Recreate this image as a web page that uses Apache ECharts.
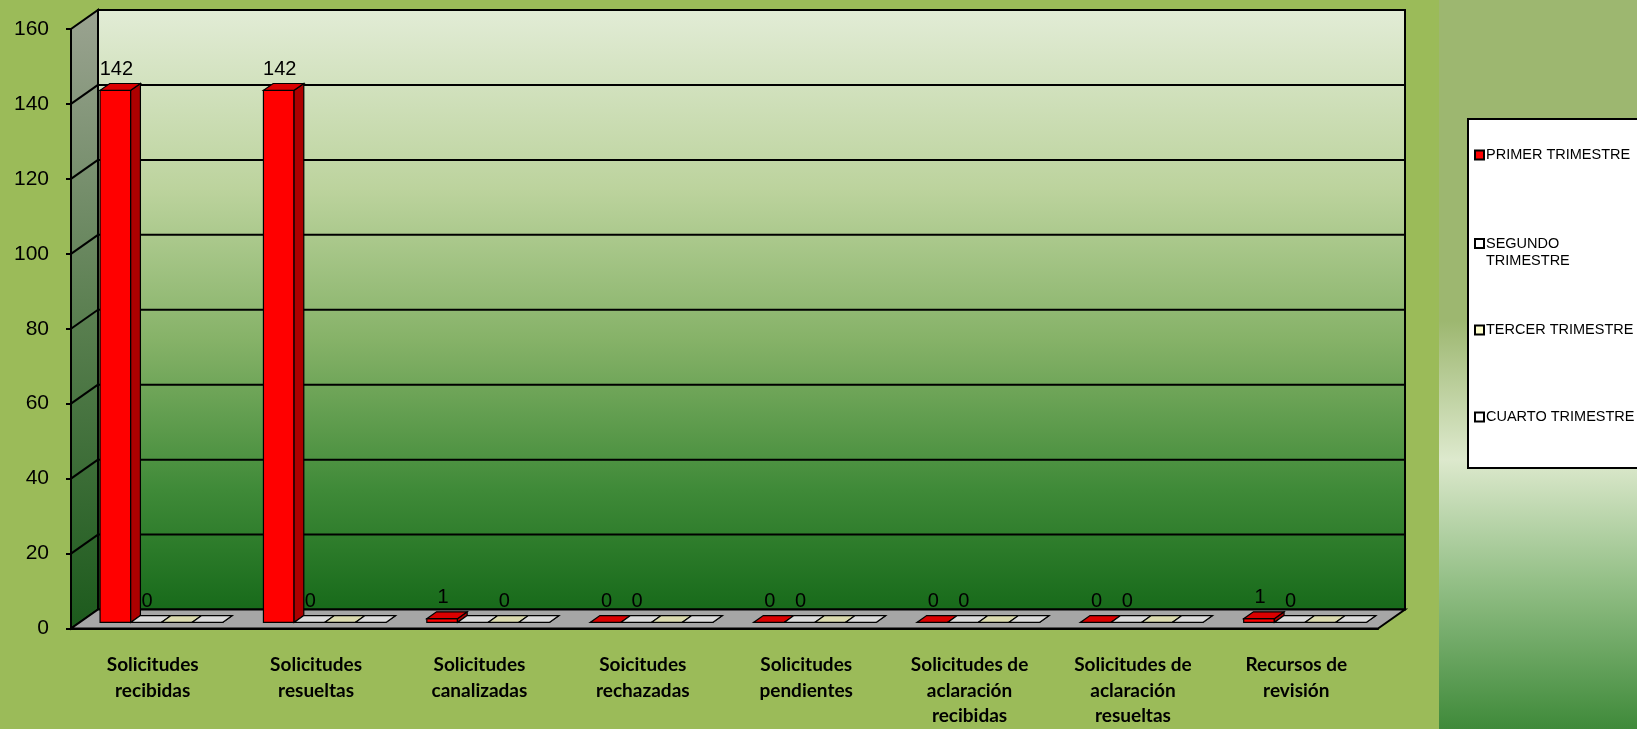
<!DOCTYPE html>
<html>
<head>
<meta charset="utf-8">
<script src="https://cdn.jsdelivr.net/npm/echarts@6.0.0/dist/echarts.min.js"></script>
<style>
  html, body { margin: 0; padding: 0; }
  #chart { width: 1637px; height: 729px; }
</style>
</head>
<body>
<div id="chart"></div>
<script>
// datos del grafico
var categories = [
    'Solicitudes\nrecibidas',
    'Solicitudes\nresueltas',
    'Solicitudes\ncanalizadas',
    'Soicitudes\nrechazadas',
    'Solicitudes\npendientes',
    'Solicitudes de\naclaración\nrecibidas',
    'Solicitudes de\naclaración\nresueltas',
    'Recursos de\nrevisión'
];
var seriesNames = ['PRIMER TRIMESTRE', 'SEGUNDO TRIMESTRE', 'TERCER TRIMESTRE', 'CUARTO TRIMESTRE'];
var primer  = [142, 142, 1, 0, 0, 0, 0, 1];
var segundo = [0, 0, 0, 0, 0, 0, 0, 0];
var tercer  = [0, 0, 0, 0, 0, 0, 0, 0];
var cuarto  = [0, 0, 0, 0, 0, 0, 0, 0];
// which value labels are shown (1 = shown)
var labelsPrimer  = [1, 1, 1, 1, 1, 1, 1, 1];
var labelsSegundo = [1, 1, 0, 1, 1, 1, 1, 1];
var labelsTercer  = [0, 0, 1, 0, 0, 0, 0, 0];
var labelsCuarto  = [0, 0, 0, 0, 0, 0, 0, 0];
var yMin = 0, yMax = 160, yStep = 20;

var seriesData = [primer, segundo, tercer, cuarto];
var seriesLabels = [labelsPrimer, labelsSegundo, labelsTercer, labelsCuarto];
var colors = ['#ff0000', '#ffffff', '#ffffcc', '#ffffff'];

// 3d depth offset
var DX = 27, DY = -19;
var F0 = 0.32, F1 = 0.68;

function shade(hex, k) {
    var n = parseInt(hex.slice(1), 16);
    var r = Math.round(((n >> 16) & 255) * k);
    var g = Math.round(((n >> 8) & 255) * k);
    var b = Math.round((n & 255) * k);
    return 'rgb(' + r + ',' + g + ',' + b + ')';
}

function barRenderer(slot) {
    return function (params, api) {
        var cat = api.value(0), val = api.value(1);
        var top = api.coord([cat, val]);
        var base = api.coord([cat, 0]);
        var cw = api.size([1, 0])[0];
        var bw = cw * 0.1875;
        var x0 = top[0] - cw * 0.375 + slot * bw, x1 = x0 + bw;
        var fx = DX * F0, fy = DY * F0, bx = DX * F1, by = DY * F1;
        var yv = top[1], y0 = base[1];
        var c = colors[slot];
        var ln = 1.2;
        var children = [
            { type: 'polygon', shape: { points: [[x0 + fx, y0 + fy], [x1 + fx, y0 + fy], [x1 + fx, yv + fy], [x0 + fx, yv + fy]] },
              style: { fill: c, stroke: '#000', lineWidth: ln } },
            { type: 'polygon', shape: { points: [[x1 + fx, y0 + fy], [x1 + bx, y0 + by], [x1 + bx, yv + by], [x1 + fx, yv + fy]] },
              style: { fill: shade(c, 0.68), stroke: '#000', lineWidth: ln } },
            { type: 'polygon', shape: { points: [[x0 + fx, yv + fy], [x1 + fx, yv + fy], [x1 + bx, yv + by], [x0 + bx, yv + by]] },
              style: { fill: shade(c, 0.86), stroke: '#000', lineWidth: ln } }
        ];
        if (seriesLabels[slot][params.dataIndex]) {
            children.push({
                type: 'text',
                style: {
                    text: String(val), x: (x0 + x1) / 2 + fx + 1, y: yv + by - 14,
                    align: 'center', verticalAlign: 'middle',
                    fill: '#000', font: '20px Arial'
                }
            });
        }
        return { type: 'group', children: children };
    };
}

function wallRenderer(params, api) {
    var cs = params.coordSys;
    var L = cs.x, R = cs.x + cs.width;
    var y0 = api.coord([0, yMin])[1];
    var yt = api.coord([0, yMax])[1];
    var border = { stroke: '#000', lineWidth: 2 };
    var children = [];
    // side wall
    children.push({
        type: 'polygon',
        shape: { points: [[L, y0], [L + DX, y0 + DY], [L + DX, yt + DY], [L, yt]] },
        style: {
            fill: new echarts.graphic.LinearGradient(0, 0, 0, 1, [
                { offset: 0, color: '#9ba391' },
                { offset: 0.5, color: '#5a7f50' },
                { offset: 1, color: '#1c5a1c' }
            ]),
            stroke: border.stroke, lineWidth: border.lineWidth
        }
    });
    // back wall
    children.push({
        type: 'rect',
        shape: { x: L + DX, y: yt + DY, width: R - L, height: y0 - yt },
        style: {
            fill: new echarts.graphic.LinearGradient(0, 0, 0, 1, [
                { offset: 0, color: '#e2ecd6' },
                { offset: 0.3, color: '#bcd39d' },
                { offset: 0.55, color: '#86b268' },
                { offset: 0.8, color: '#3f8a38' },
                { offset: 1, color: '#176a1a' }
            ]),
            stroke: border.stroke, lineWidth: border.lineWidth
        }
    });
    // gridlines
    for (var v = yMin + yStep; v < yMax; v += yStep) {
        var y = api.coord([0, v])[1];
        children.push({ type: 'line', shape: { x1: L + DX, y1: y + DY, x2: R + DX, y2: y + DY }, style: border });
        children.push({ type: 'line', shape: { x1: L, y1: y, x2: L + DX, y2: y + DY }, style: border });
    }
    // floor
    children.push({
        type: 'polygon',
        shape: { points: [[L, y0], [R, y0], [R + DX, y0 + DY], [L + DX, y0 + DY]] },
        style: { fill: '#a6a6a6', stroke: border.stroke, lineWidth: border.lineWidth }
    });
    return { type: 'group', children: children };
}

var chart = echarts.init(document.getElementById('chart'));

var series = [{
    type: 'custom',
    name: 'walls',
    silent: true,
    z: 1,
    data: [[0, 0]],
    encode: { x: 0, y: 1 },
    renderItem: wallRenderer
}];
for (var s = 0; s < 4; s++) {
    series.push({
        type: 'custom',
        name: seriesNames[s],
        z: 3,
        color: colors[s],
        itemStyle: { color: colors[s] },
        data: seriesData[s].map(function (v, i) { return [i, v]; }),
        encode: { x: 0, y: 1 },
        renderItem: barRenderer(s)
    });
}

// segundo wraps on two lines; a blank line above keeps the marker on the first line
var legendTops = [146.5, 218, 321.5, 408.5];
var legends = seriesNames.map(function (name, i) {
    var two = (i === 1);
    return {
        data: [name],
        left: 1474,
        top: legendTops[i],
        padding: 0,
        selectedMode: false,
        icon: 'rect',
        itemWidth: 9,
        itemHeight: 9,
        itemGap: 0,
        itemStyle: { borderColor: '#000', borderWidth: 2 },
        formatter: two ? ' \nSEGUNDO\nTRIMESTRE' : name,
        textStyle: {
            fontFamily: 'Arial', fontSize: 14.5, color: '#000', lineHeight: 17,
            padding: [0, 0, 0, -3]
        }
    };
});

var option = {
    backgroundColor: '#9bbb59',
    animation: false,
    grid: { left: 71, top: 29, width: 1307, height: 600 },
    graphic: [
        {
            type: 'rect', z: 0, silent: true,
            shape: { x: 1439, y: 0, width: 198, height: 729 },
            style: {
                fill: new echarts.graphic.LinearGradient(0, 0, 0, 1, [
                    { offset: 0, color: '#9db770' },
                    { offset: 0.44, color: '#9db770' },
                    { offset: 0.63, color: '#dde9cd' },
                    { offset: 0.8, color: '#93bf86' },
                    { offset: 1, color: '#3f8a3a' }
                ])
            }
        },
        {
            type: 'rect', z: 0, silent: true,
            shape: { x: 1468, y: 119, width: 200, height: 349 },
            style: { fill: '#fff', stroke: '#000', lineWidth: 2 }
        }
    ],
    legend: legends,
    xAxis: {
        type: 'category',
        data: categories,
        axisLine: { lineStyle: { color: '#000', width: 2 } },
        axisTick: { length: 7, lineStyle: { color: '#000', width: 2 } },
        axisLabel: {
            interval: 0, margin: 24, color: '#000',
            fontFamily: 'Lato', fontWeight: 'bold', fontSize: 19, lineHeight: 25.5
        },
        splitLine: { show: false }
    },
    yAxis: {
        type: 'value',
        min: yMin, max: yMax, interval: yStep,
        axisLine: { show: true, lineStyle: { color: '#000', width: 2 } },
        axisTick: { show: true, length: 5, lineStyle: { color: '#000', width: 2 } },
        axisLabel: { margin: 22, color: '#000', fontFamily: 'Arial', fontSize: 21 },
        splitLine: { show: false }
    },
    series: series
};
chart.setOption(option);
</script>
</body>
</html>
